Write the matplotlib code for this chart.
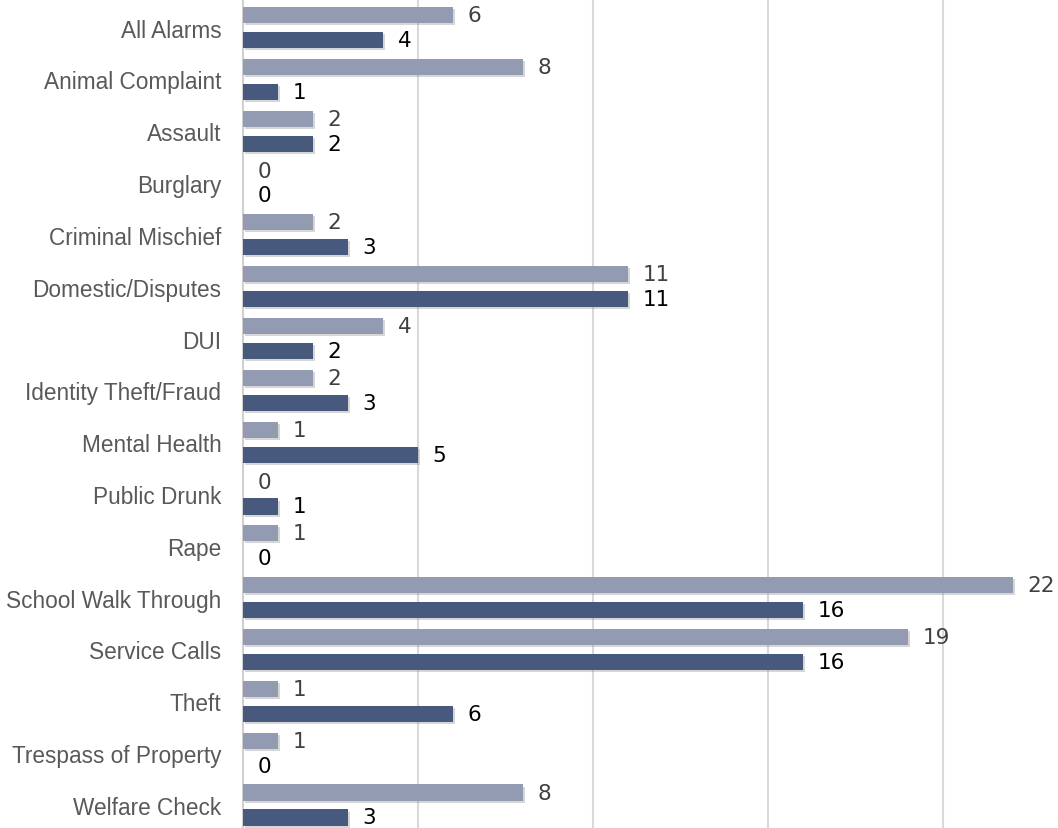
import matplotlib
matplotlib.use('Agg')
import matplotlib.pyplot as plt
import matplotlib.patheffects as pe
import numpy as np

categories = ['All Alarms', 'Animal Complaint', 'Assault', 'Burglary',
              'Criminal Mischief', 'Domestic/Disputes', 'DUI',
              'Identity Theft/Fraud', 'Mental Health', 'Public Drunk',
              'Rape', 'School Walk Through', 'Service Calls', 'Theft',
              'Trespass of Property', 'Welfare Check']
prev_counts = [6, 8, 2, 0, 2, 11, 4, 2, 1, 0, 1, 22, 19, 1, 1, 8]
curr_counts = [4, 1, 2, 0, 3, 11, 2, 3, 5, 1, 0, 16, 16, 6, 0, 3]

light = '#939bb2'
dark = '#475a7d'

fig = plt.figure(figsize=(10.58, 8.29), dpi=100)
ax = fig.add_axes([243 / 1058, 0, 815 / 1058, 1])

y = np.arange(len(categories))
h = 0.31
off = 0.241
shadow = [pe.SimplePatchShadow(offset=(1.2, -1.5), shadow_rgbFace='#7a7a7a',
                               alpha=0.3), pe.Normal()]

b1 = ax.barh(y - off, prev_counts, height=h, color=light, lw=0, zorder=3)
b2 = ax.barh(y + off, curr_counts, height=h, color=dark, lw=0, zorder=3)
for b in list(b1) + list(b2):
    b.set_path_effects(shadow)

for yi, v in zip(y, prev_counts):
    ax.annotate(str(v), (v, yi - off), xytext=(10.5, 0),
                textcoords='offset points', va='center', ha='left',
                fontsize=15.5, color='#404040', family='DejaVu Sans')
for yi, v in zip(y, curr_counts):
    ax.annotate(str(v), (v, yi + off), xytext=(10.5, 0),
                textcoords='offset points', va='center', ha='left',
                fontsize=15.5, color='black', family='DejaVu Sans')

ax.set_xlim(0, 815 / 35)
ax.set_ylim(15 + 23 / 51.83, -28.5 / 51.83)
ax.set_xticks([5, 10, 15, 20])
ax.set_xticklabels([])
ax.tick_params(axis='x', length=0)
ax.grid(True, axis='x', color='#d9d9d9', lw=1.5, zorder=0)

ax.set_yticks(y)
ax.set_yticklabels(categories, fontsize=16.3, color='#595959',
                   family='Liberation Sans')
ax.tick_params(axis='y', length=0, pad=15.5)

for s in ['top', 'right', 'bottom']:
    ax.spines[s].set_visible(False)
ax.spines['left'].set_color('#d0d0d0')
ax.spines['left'].set_linewidth(1.5)

fig.savefig('out.png', dpi=100)
